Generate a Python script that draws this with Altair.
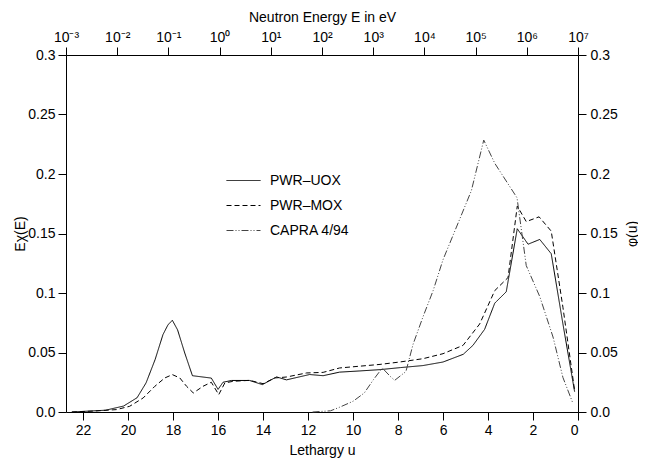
import altair as alt
import pandas as pd

# ---- data ----
series_names = ["PWR–UOX", "PWR–MOX", "CAPRA 4/94"]

uox_u = [22.5, 22.0, 21.0, 20.2, 19.6, 19.2, 18.8, 18.45, 18.22, 18.03,
         17.8, 17.48, 17.14, 16.3, 16.0, 15.78, 15.4, 14.6, 14.03, 13.4,
         12.96, 11.93, 11.33, 10.6, 9.7, 8.8, 7.9, 6.9, 6.0, 5.1,
         4.67, 4.15, 3.7, 3.19, 2.7, 2.22, 1.7, 1.19, 0.67, 0.15]
uox_v = [0.0, 0.0005, 0.0015, 0.005, 0.012, 0.0245, 0.044, 0.065, 0.0735, 0.077,
         0.069, 0.0495, 0.0305, 0.0285, 0.019, 0.025, 0.0265, 0.0265, 0.023, 0.0295,
         0.027, 0.0315, 0.0305, 0.0335, 0.0345, 0.0356, 0.0373, 0.039, 0.042, 0.0485,
         0.056, 0.0695, 0.0915, 0.101, 0.154, 0.141, 0.145, 0.133, 0.074, 0.017]

mox_u = [22.5, 21.5, 20.52, 19.93, 19.33, 18.81, 18.37, 18.03, 17.7, 17.4,
         17.1, 16.67, 16.3, 15.97, 15.7, 15.33, 14.6, 14.0, 13.48, 12.96,
         12.07, 11.33, 10.6, 9.7, 8.8, 7.93, 6.89, 6.0, 5.11, 4.37,
         3.7, 3.11, 2.7, 2.3, 1.73, 1.19, 0.67, 0.15]
mox_v = [0.0, 0.0008, 0.002, 0.0048, 0.0118, 0.0216, 0.0286, 0.0314, 0.0286, 0.0216,
         0.016, 0.0216, 0.025, 0.0146, 0.0244, 0.0258, 0.0266, 0.0238, 0.0286, 0.0294,
         0.0328, 0.0333, 0.037, 0.0385, 0.040, 0.042, 0.0448, 0.049, 0.056, 0.074,
         0.102, 0.113, 0.173, 0.160, 0.164, 0.152, 0.088, 0.018]

capra_u = [11.8, 11.0, 10.6, 10.0, 9.5, 9.1, 8.7, 8.35, 8.15, 7.65, 7.33, 6.89,
           6.44, 6.0, 5.26, 4.74, 4.19, 3.7, 2.71, 2.3, 1.7, 1.11, 0.67, 0.22]
capra_v = [0.0, 0.001, 0.004, 0.009, 0.016, 0.027, 0.037, 0.030, 0.0266, 0.034, 0.057, 0.080,
           0.102, 0.128, 0.162, 0.186, 0.2285, 0.209, 0.180, 0.123, 0.097, 0.063, 0.029, 0.007]

lethargy_ticks = [22, 20, 18, 16, 14, 12, 10, 8, 6, 4, 2, 0]
energy_ticks = [1e-3, 1e-2, 1e-1, 1e0, 1e1, 1e2, 1e3, 1e4, 1e5, 1e6, 1e7]
y_ticks = [0.0, 0.05, 0.1, 0.15, 0.2, 0.25, 0.3]

U_MAX = 22.76
FONT = "Liberation Sans"
FS = 14

rows = []
for name, us, vs in [(series_names[0], uox_u, uox_v),
                     (series_names[1], mox_u, mox_v),
                     (series_names[2], capra_u, capra_v)]:
    for u, v in zip(us, vs):
        rows.append({"series": name, "u": u, "value": v})
df = pd.DataFrame(rows)

ylabel_expr = "datum.value == 0 ? '0.0' : format(datum.value, '.2~f')"

legend_kw = dict(title=None, orient="none", legendX=160, legendY=108,
                 symbolType="stroke", symbolSize=1156, symbolStrokeWidth=1,
                 labelFont=FONT, labelFontSize=FS, labelColor="black",
                 labelOffset=9, rowPadding=-14.5)

lines = alt.Chart(df).mark_line(strokeWidth=1).encode(
    x=alt.X("u:Q",
            scale=alt.Scale(domain=[0, U_MAX], reverse=True, nice=False, zero=False),
            axis=alt.Axis(orient="bottom", values=lethargy_ticks, title="Lethargy u",
                          grid=False, tickSize=8, labelPadding=3, domainColor="black",
                          tickColor="black", labelColor="black", labelFont=FONT,
                          labelFontSize=FS, titleFont=FONT, titleFontSize=FS,
                          titleFontWeight="normal", titleColor="black", titlePadding=6)),
    y=alt.Y("value:Q",
            scale=alt.Scale(domain=[0, 0.3], nice=False),
            axis=alt.Axis(orient="left", values=y_ticks, title="Eχ(E)", grid=False,
                          tickSize=8, labelPadding=3, labelExpr=ylabel_expr,
                          domainColor="black", tickColor="black", labelColor="black",
                          labelFont=FONT, labelFontSize=FS, titleFont=FONT,
                          titleFontSize=FS, titleFontWeight="normal", titleColor="black",
                          titleAngle=270, titleAlign="center", titleBaseline="middle",
                          titleX=-46, titleY=178.5)),
    strokeDash=alt.StrokeDash("series:N",
                              scale=alt.Scale(domain=series_names,
                                              range=[[1, 0], [5, 3], [7, 2, 1, 2, 1, 2]]),
                              legend=alt.Legend(**legend_kw)),
    color=alt.Color("series:N",
                    scale=alt.Scale(domain=series_names, range=["black", "black", "#444444"]),
                    legend=alt.Legend(**legend_kw)),
)

right_df = pd.DataFrame({"u": [0.0], "value": [0.0]})
right_axis = alt.Chart(right_df).mark_point(opacity=0).encode(
    x=alt.X("u:Q", scale=alt.Scale(domain=[0, U_MAX], reverse=True, nice=False), axis=None),
    y=alt.Y("value:Q", scale=alt.Scale(domain=[0, 0.3], nice=False),
            axis=alt.Axis(orient="right", values=y_ticks, title="φ(u)", grid=False,
                          tickSize=8, labelPadding=4, labelExpr=ylabel_expr,
                          domainColor="black", tickColor="black", labelColor="black",
                          labelFont=FONT, labelFontSize=FS, titleFont=FONT,
                          titleFontSize=FS, titleFontWeight="normal", titleColor="black",
                          titleAngle=270, titleAlign="center", titleBaseline="middle",
                          titleX=54, titleY=178.5)),
)

top_df = pd.DataFrame({"E": [1e-3], "value": [0.0]})
sup = "['⁻³','⁻²','⁻¹','⁰','¹','²','³','⁴','⁵','⁶','⁷'][round(log(datum.value)/LN10)+3]"
top_axis = alt.Chart(top_df).mark_point(opacity=0).encode(
    x=alt.X("E:Q", scale=alt.Scale(type="log", domain=[1e-3, 1e7], nice=False),
            axis=alt.Axis(orient="top", values=energy_ticks, title="Neutron Energy E in eV",
                          grid=False, tickSize=8, labelPadding=3,
                          labelExpr="'10' + " + sup, labelFlush=False,
                          domainColor="black", tickColor="black", labelColor="black",
                          labelFont=FONT, labelFontSize=FS, titleFont=FONT,
                          titleFontSize=FS, titleFontWeight="normal", titleColor="black",
                          titleAlign="center", titleBaseline="middle",
                          titleX=256, titleY=-38)),
    y=alt.Y("value:Q", scale=alt.Scale(domain=[0, 0.3], nice=False), axis=None),
)

chart = alt.layer(lines, right_axis, top_axis).resolve_scale(
    x="independent", y="independent"
).properties(
    width=512, height=357,
    padding={"left": 58, "top": 47, "right": 60, "bottom": 50},
    autosize="none",
    background="white",
).configure_view(stroke="transparent")

chart.save("out.html", embed_options={"renderer": "svg", "actions": False})
